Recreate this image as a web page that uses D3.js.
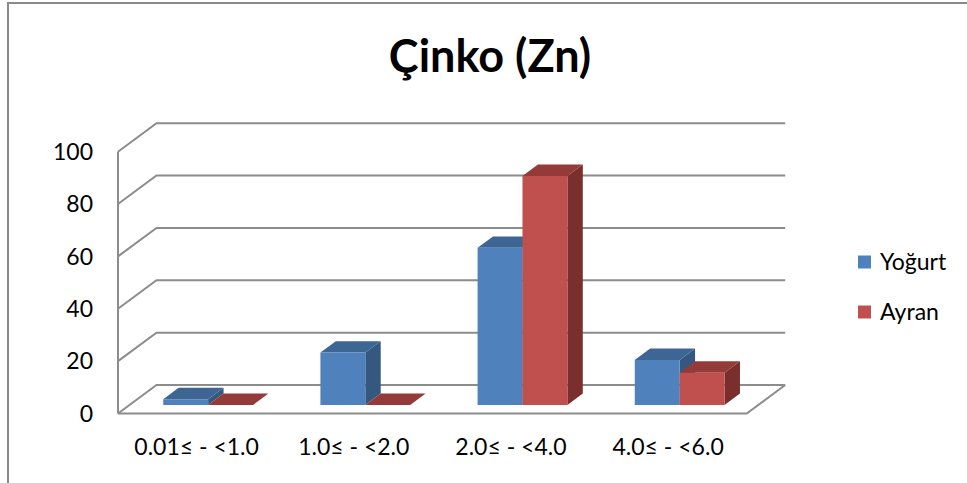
<!DOCTYPE html>
<html>
<head>
<meta charset="utf-8">
<script src="https://cdn.jsdelivr.net/npm/d3@7"></script>
<style>
  html, body { margin: 0; padding: 0; background: #fff; }
  svg { display: block; font-family: Lato, "Open Sans", sans-serif; }
</style>
</head>
<body>
<svg id="chart" width="967" height="483"></svg>
<script>
// Zinc content ranges (mg/kg) and the share of samples in each range
const categories = ["0.01\u2264 - <1.0", "1.0\u2264 - <2.0", "2.0\u2264 - <4.0", "4.0\u2264 - <6.0"];
const seriesNames = ["Yoğurt", "Ayran"];
const yogurtValues = [2.2, 20, 60, 17.2];
const ayranValues = [0, 0, 87.5, 12.3];
const yTicks = [0, 20, 40, 60, 80, 100];
const titleText = "Çinko (Zn)";

const seriesValues = [yogurtValues, ayranValues];
const palette = [
  { front: "#4F81BD", top: "#3D6695", side: "#34587F" },
  { front: "#C0504D", top: "#943B39", side: "#7B2F2D" }
];

const svg = d3.select("#chart");

// Outer chart frame
svg.append("rect")
  .attr("x", 8).attr("y", 3).attr("width", 1000).attr("height", 520)
  .attr("fill", "none").attr("stroke", "#8a8a8a").attr("stroke-width", 2);

// Oblique projection: front plane plus a depth offset
const DX = 38.5, DY = 28.5;
const x = d3.scaleBand().domain(categories).range([118, 746.7]).paddingInner(0).paddingOuter(0);
const xs = d3.scaleBand().domain(d3.range(seriesNames.length)).range([0, x.bandwidth()])
  .paddingInner(0).paddingOuter(0.75);
const y = d3.scaleLinear().domain([0, 100]).range([413.5, 151.7]);
const P = (px, v, t) => [px + t * DX, y(v) - t * DY];

const grid = svg.append("g").attr("stroke", "#8c8c8c").attr("stroke-width", 2).attr("fill", "none");

// Back wall gridlines and side-wall diagonals
yTicks.forEach(v => {
  const a = P(x.range()[0], v, 0), b = P(x.range()[0], v, 1), c = P(x.range()[1], v, 1);
  grid.append("path").attr("d", d3.line()([a, b, c]));
});
// Front vertical axis line
grid.append("path").attr("d", d3.line()([P(118, 0, 0), P(118, 100, 0)]));
// Floor front edge and right edge
grid.append("path").attr("d", d3.line()([P(x.range()[0], 0, 0), P(x.range()[1], 0, 0), P(x.range()[1], 0, 1)]));

// Value axis labels
svg.append("g").selectAll("text").data(yTicks).join("text")
  .attr("x", 93).attr("y", d => y(d)).attr("dy", "0.36em")
  .attr("text-anchor", "end").attr("font-size", 23).attr("fill", "#000")
  .text(d => d);

// Category labels
svg.append("g").selectAll("text").data(categories).join("text")
  .attr("x", d => x(d) + x.bandwidth() / 2).attr("y", 455)
  .attr("text-anchor", "middle").attr("font-size", 23).attr("fill", "#000")
  .text(d => d);

// 3D columns
const t0 = 0.3, t1 = 0.7;
const bars = svg.append("g");
categories.forEach((cat, ci) => {
  seriesValues.forEach((vals, si) => {
    const v = vals[ci];
    const xl = x(cat) + xs(si), xr = xl + xs.bandwidth();
    const col = palette[si];
    const g = bars.append("g");
    const poly = pts => "M" + pts.map(p => p.join(",")).join("L") + "Z";
    // right side face
    g.append("path").attr("fill", col.side)
      .attr("d", poly([P(xr, 0, t0), P(xr, v, t0), P(xr, v, t1), P(xr, 0, t1)]));
    // top face
    g.append("path").attr("fill", col.top)
      .attr("d", poly([P(xl, v, t0), P(xr, v, t0), P(xr, v, t1), P(xl, v, t1)]));
    // front face
    g.append("path").attr("fill", col.front)
      .attr("d", poly([P(xl, 0, t0), P(xr, 0, t0), P(xr, v, t0), P(xl, v, t0)]));
  });
});

// Title
svg.append("text")
  .attr("x", 490).attr("y", 72).attr("text-anchor", "middle")
  .attr("font-size", 45).attr("font-weight", "bold").attr("fill", "#000")
  .text(titleText);

// Legend
const legend = svg.append("g");
seriesNames.forEach((name, i) => {
  const ly = 262 + i * 50;
  legend.append("rect").attr("x", 858).attr("y", ly - 6.5).attr("width", 13).attr("height", 13)
    .attr("fill", palette[i].front);
  legend.append("text").attr("x", 880).attr("y", ly).attr("dy", "0.36em")
    .attr("font-size", 23).attr("fill", "#000").text(name);
});
</script>
</body>
</html>
